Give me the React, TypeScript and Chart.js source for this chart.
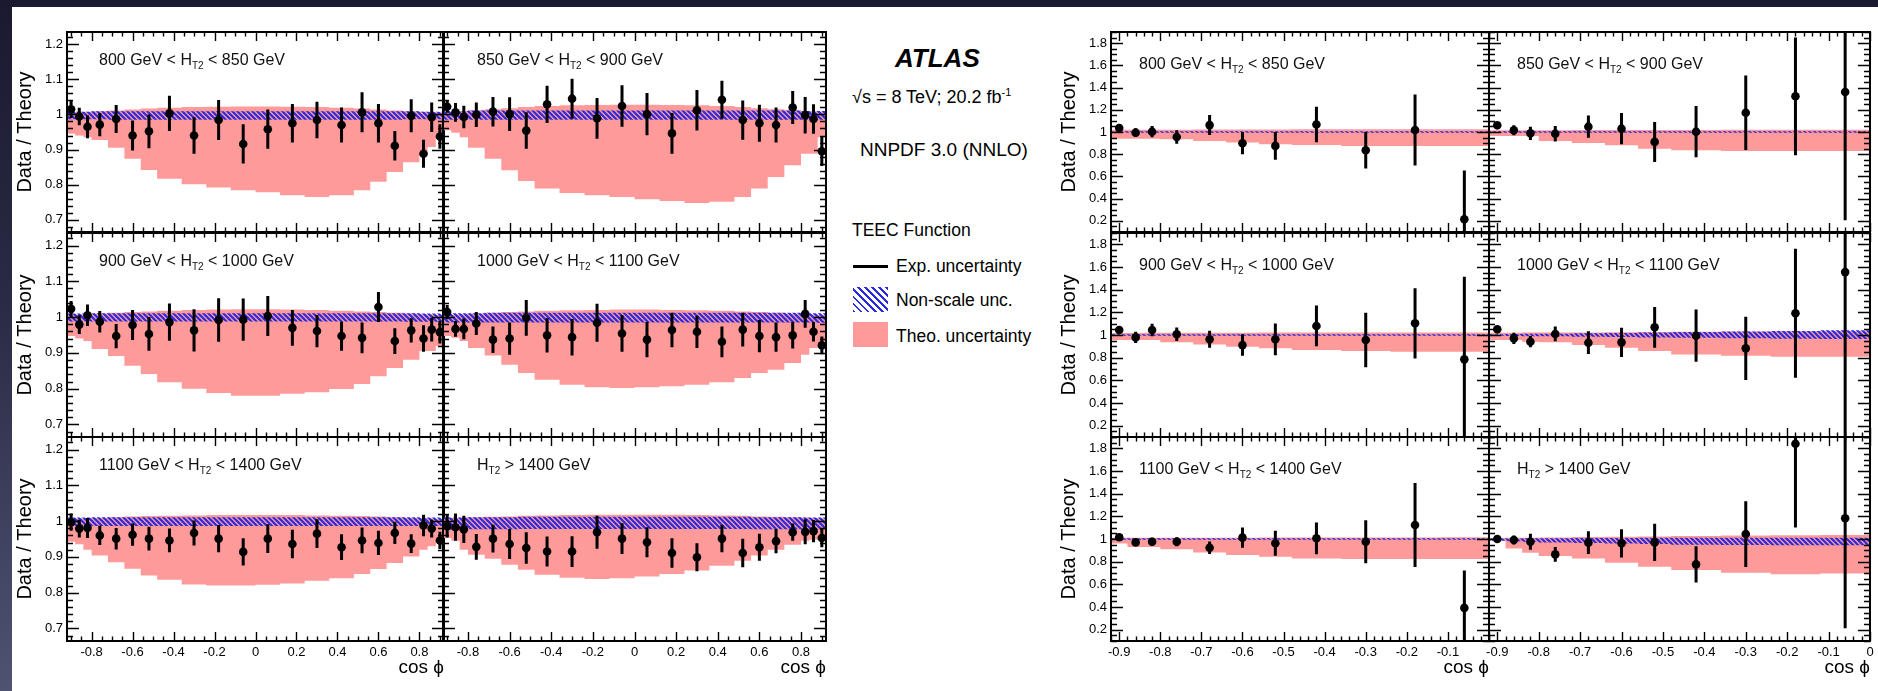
import React, { useEffect, useRef } from "react";
import { Chart, registerables } from "chart.js";
Chart.register(...registerables);

const FONT = "'Liberation Sans', Arial, Helvetica, sans-serif";
const RED = "#ff9a9a";
const HATCH_BLUE = "#2a2ae0";

// ---------- binning ----------
const TEEC_EDGES = [-0.92, -0.88, -0.84, -0.8, -0.72, -0.64, -0.56, -0.48, -0.36, -0.24, -0.12, 0, 0.12, 0.24, 0.36, 0.48, 0.56, 0.64, 0.72, 0.8, 0.84, 0.88, 0.92];
const TEEC_X = [-0.9, -0.86, -0.82, -0.76, -0.68, -0.6, -0.52, -0.42, -0.3, -0.18, -0.06, 0.06, 0.18, 0.3, 0.42, 0.52, 0.6, 0.68, 0.76, 0.82, 0.86, 0.9];
const AEEC_EDGES = [-0.92, -0.88, -0.84, -0.8, -0.72, -0.64, -0.56, -0.48, -0.36, -0.24, -0.12, 0];
const AEEC_X = [-0.9, -0.86, -0.82, -0.76, -0.68, -0.6, -0.52, -0.42, -0.3, -0.18, -0.06];

// ---------- tick labels ----------
const TEEC_X_TICKS = [-0.8, -0.6, -0.4, -0.2, 0, 0.2, 0.4, 0.6, 0.8];
const TEEC_Y_TICKS = [0.7, 0.8, 0.9, 1, 1.1, 1.2];
const AEEC_X_TICKS_A = [-0.9, -0.8, -0.7, -0.6, -0.5, -0.4, -0.3, -0.2, -0.1];
const AEEC_X_TICKS_B = [-0.9, -0.8, -0.7, -0.6, -0.5, -0.4, -0.3, -0.2, -0.1, 0];
const AEEC_Y_TICKS = [0.2, 0.4, 0.6, 0.8, 1, 1.2, 1.4, 1.6, 1.8];

// ---------- TEEC panels ----------
const T1_VAL = [1.015, 0.994, 0.965, 0.971, 0.987, 0.94, 0.952, 1.003, 0.94, 0.984, 0.916, 0.958, 0.975, 0.984, 0.97, 1.006, 0.975, 0.911, 0.996, 0.888, 0.992, 0.937];
const T1_ERR = [0.025, 0.025, 0.033, 0.033, 0.04, 0.043, 0.048, 0.05, 0.052, 0.057, 0.056, 0.056, 0.055, 0.052, 0.05, 0.057, 0.055, 0.042, 0.047, 0.04, 0.042, 0.035];
const T1_LO = [0.945, 0.94, 0.935, 0.927, 0.905, 0.874, 0.842, 0.817, 0.801, 0.792, 0.784, 0.778, 0.77, 0.765, 0.77, 0.784, 0.808, 0.836, 0.864, 0.885, 0.907, 0.94];
const T1_HI = [1.006, 1.007, 1.008, 1.009, 1.011, 1.014, 1.017, 1.019, 1.021, 1.022, 1.023, 1.023, 1.022, 1.021, 1.019, 1.017, 1.014, 1.011, 1.009, 1.008, 1.007, 1.006];
const T1_HLO = [0.986, 0.986, 0.986, 0.986, 0.985, 0.985, 0.985, 0.985, 0.985, 0.985, 0.985, 0.985, 0.985, 0.985, 0.985, 0.985, 0.985, 0.985, 0.986, 0.986, 0.986, 0.986];
const T1_HHI = [1.008, 1.008, 1.008, 1.009, 1.009, 1.009, 1.009, 1.009, 1.009, 1.009, 1.009, 1.009, 1.009, 1.009, 1.009, 1.009, 1.009, 1.009, 1.009, 1.008, 1.008, 1.008];

const T2_VAL = [1.022, 1.006, 0.993, 0.999, 1.008, 1.001, 0.954, 1.029, 1.045, 0.989, 1.024, 1.001, 0.946, 1.012, 1.042, 0.984, 0.975, 0.97, 1.02, 0.998, 0.987, 0.895];
const T2_ERR = [0.017, 0.027, 0.032, 0.035, 0.042, 0.048, 0.052, 0.053, 0.057, 0.058, 0.059, 0.06, 0.058, 0.058, 0.054, 0.056, 0.053, 0.05, 0.047, 0.052, 0.042, 0.042];
const T2_LO = [0.955, 0.948, 0.935, 0.905, 0.874, 0.841, 0.81, 0.789, 0.776, 0.77, 0.765, 0.758, 0.753, 0.748, 0.751, 0.765, 0.789, 0.822, 0.855, 0.888, 0.888, 0.935];
const T2_HI = [1.008, 1.009, 1.01, 1.012, 1.015, 1.018, 1.021, 1.024, 1.026, 1.027, 1.028, 1.028, 1.027, 1.026, 1.024, 1.021, 1.018, 1.015, 1.012, 1.01, 1.009, 1.008];
const T2_HLO = [0.985, 0.985, 0.985, 0.985, 0.985, 0.985, 0.985, 0.985, 0.985, 0.985, 0.985, 0.985, 0.985, 0.985, 0.985, 0.985, 0.985, 0.985, 0.985, 0.985, 0.985, 0.985];
const T2_HHI = [1.01, 1.01, 1.01, 1.011, 1.011, 1.011, 1.011, 1.011, 1.011, 1.011, 1.011, 1.011, 1.011, 1.011, 1.011, 1.011, 1.011, 1.011, 1.011, 1.01, 1.01, 1.01];

const T3_VAL = [1.023, 0.979, 1.005, 0.987, 0.947, 0.978, 0.953, 0.986, 0.963, 0.992, 0.993, 1.003, 0.97, 0.961, 0.947, 0.942, 1.028, 0.933, 0.963, 0.94, 0.965, 0.958];
const T3_ERR = [0.022, 0.026, 0.03, 0.03, 0.034, 0.042, 0.047, 0.052, 0.059, 0.061, 0.059, 0.056, 0.05, 0.045, 0.041, 0.043, 0.042, 0.036, 0.034, 0.037, 0.033, 0.032];
const T3_LO = [0.947, 0.94, 0.933, 0.911, 0.891, 0.864, 0.841, 0.818, 0.8, 0.788, 0.78, 0.78, 0.786, 0.79, 0.799, 0.813, 0.835, 0.858, 0.881, 0.905, 0.905, 0.919];
const T3_HI = [1.006, 1.007, 1.008, 1.01, 1.012, 1.014, 1.016, 1.018, 1.02, 1.021, 1.022, 1.022, 1.021, 1.02, 1.018, 1.016, 1.014, 1.012, 1.01, 1.008, 1.007, 1.006];
const T3_HLO = [0.988, 0.988, 0.988, 0.988, 0.988, 0.988, 0.988, 0.988, 0.988, 0.988, 0.988, 0.988, 0.988, 0.988, 0.988, 0.988, 0.988, 0.988, 0.987, 0.987, 0.987, 0.987];
const T3_HHI = [1.01, 1.01, 1.01, 1.011, 1.011, 1.011, 1.011, 1.011, 1.011, 1.011, 1.011, 1.011, 1.011, 1.011, 1.011, 1.011, 1.011, 1.011, 1.011, 1.01, 1.01, 1.01];

const T4_VAL = [1.014, 0.967, 0.967, 0.982, 0.937, 0.94, 0.998, 0.949, 0.944, 0.984, 0.954, 0.937, 0.964, 0.959, 0.931, 0.965, 0.947, 0.944, 0.949, 1.009, 0.959, 0.921];
const T4_ERR = [0.02, 0.022, 0.029, 0.032, 0.037, 0.045, 0.05, 0.048, 0.051, 0.053, 0.051, 0.049, 0.048, 0.045, 0.043, 0.047, 0.045, 0.041, 0.037, 0.039, 0.027, 0.025];
const T4_LO = [0.947, 0.942, 0.933, 0.914, 0.893, 0.867, 0.844, 0.825, 0.811, 0.804, 0.802, 0.804, 0.807, 0.811, 0.818, 0.83, 0.844, 0.853, 0.872, 0.895, 0.914, 0.919];
const T4_HI = [1.006, 1.007, 1.008, 1.01, 1.012, 1.014, 1.016, 1.018, 1.019, 1.02, 1.021, 1.021, 1.02, 1.019, 1.018, 1.016, 1.014, 1.012, 1.01, 1.008, 1.007, 1.006];
const T4_HLO = [0.985, 0.985, 0.985, 0.985, 0.985, 0.985, 0.985, 0.985, 0.985, 0.985, 0.985, 0.985, 0.985, 0.985, 0.985, 0.985, 0.985, 0.985, 0.985, 0.985, 0.984, 0.984];
const T4_HHI = [1.011, 1.011, 1.011, 1.011, 1.012, 1.012, 1.012, 1.012, 1.012, 1.012, 1.012, 1.012, 1.012, 1.012, 1.012, 1.012, 1.012, 1.012, 1.012, 1.011, 1.011, 1.011];

const T5_VAL = [0.997, 0.979, 0.981, 0.96, 0.951, 0.962, 0.951, 0.946, 0.967, 0.951, 0.914, 0.951, 0.936, 0.965, 0.927, 0.946, 0.939, 0.967, 0.937, 0.988, 0.979, 0.946];
const T5_ERR = [0.024, 0.025, 0.028, 0.027, 0.03, 0.031, 0.033, 0.033, 0.035, 0.038, 0.038, 0.04, 0.04, 0.04, 0.036, 0.036, 0.034, 0.031, 0.026, 0.03, 0.025, 0.024];
const T5_LO = [0.942, 0.935, 0.92, 0.904, 0.885, 0.867, 0.848, 0.836, 0.823, 0.82, 0.82, 0.822, 0.826, 0.833, 0.84, 0.852, 0.866, 0.883, 0.901, 0.92, 0.93, 0.939];
const T5_HI = [1.006, 1.007, 1.008, 1.009, 1.011, 1.013, 1.014, 1.015, 1.016, 1.017, 1.017, 1.017, 1.017, 1.016, 1.015, 1.014, 1.013, 1.011, 1.009, 1.008, 1.007, 1.006];
const T5_HLO = [0.986, 0.986, 0.986, 0.986, 0.986, 0.986, 0.986, 0.986, 0.986, 0.986, 0.986, 0.986, 0.986, 0.986, 0.986, 0.986, 0.986, 0.986, 0.986, 0.986, 0.986, 0.986];
const T5_HHI = [1.01, 1.01, 1.01, 1.011, 1.011, 1.011, 1.011, 1.011, 1.011, 1.011, 1.011, 1.011, 1.011, 1.011, 1.011, 1.011, 1.011, 1.011, 1.011, 1.01, 1.01, 1.01];

const T6_VAL = [0.986, 0.983, 0.977, 0.928, 0.951, 0.936, 0.925, 0.915, 0.915, 0.969, 0.951, 0.941, 0.911, 0.899, 0.951, 0.911, 0.927, 0.944, 0.969, 0.97, 0.972, 0.953];
const T6_ERR = [0.032, 0.038, 0.038, 0.036, 0.039, 0.042, 0.044, 0.042, 0.043, 0.046, 0.043, 0.042, 0.041, 0.039, 0.038, 0.04, 0.038, 0.034, 0.024, 0.035, 0.031, 0.026];
const T6_LO = [0.953, 0.945, 0.92, 0.906, 0.895, 0.878, 0.864, 0.85, 0.842, 0.838, 0.84, 0.845, 0.852, 0.862, 0.875, 0.889, 0.904, 0.92, 0.934, 0.945, 0.948, 0.95];
const T6_HI = [1.008, 1.009, 1.01, 1.011, 1.012, 1.013, 1.015, 1.016, 1.017, 1.018, 1.018, 1.018, 1.018, 1.017, 1.016, 1.015, 1.013, 1.012, 1.011, 1.01, 1.009, 1.008];
const T6_HLO = [0.976, 0.976, 0.976, 0.977, 0.977, 0.977, 0.978, 0.978, 0.978, 0.978, 0.978, 0.978, 0.978, 0.978, 0.978, 0.978, 0.977, 0.977, 0.977, 0.976, 0.976, 0.976];
const T6_HHI = [1.01, 1.01, 1.01, 1.011, 1.011, 1.011, 1.012, 1.012, 1.012, 1.012, 1.012, 1.012, 1.012, 1.012, 1.012, 1.012, 1.011, 1.011, 1.011, 1.01, 1.01, 1.01];

// ---------- AEEC panels ----------
const A1_VAL = [1.036, 0.994, 1.003, 0.955, 1.062, 0.899, 0.875, 1.068, 0.836, 1.018, 0.214];
const A1_ERR = [0.03, 0.04, 0.05, 0.06, 0.09, 0.1, 0.125, 0.16, 0.165, 0.32, 0.44];
const A1_LO = [0.94, 0.94, 0.94, 0.935, 0.92, 0.905, 0.89, 0.884, 0.875, 0.875, 0.875];
const A1_HI = [1.02, 1.02, 1.021, 1.021, 1.022, 1.022, 1.023, 1.024, 1.024, 1.025, 1.025];
const A1_HLO = [0.994, 0.994, 0.994, 0.994, 0.994, 0.994, 0.994, 0.994, 0.994, 0.994, 0.993];
const A1_HHI = [1.006, 1.006, 1.006, 1.006, 1.006, 1.006, 1.006, 1.006, 1.006, 1.006, 1.007];

const A2_VAL = [1.06, 1.015, 0.988, 0.985, 1.048, 1.03, 0.911, 1.003, 1.173, 1.321, 1.36];
const A2_ERR = [0.02, 0.045, 0.06, 0.07, 0.1, 0.14, 0.18, 0.23, 0.335, 0.53, 1.155];
const A2_LO = [0.964, 0.964, 0.964, 0.92, 0.9, 0.88, 0.85, 0.836, 0.83, 0.83, 0.83];
const A2_HI = [1.015, 1.015, 1.016, 1.016, 1.017, 1.018, 1.018, 1.019, 1.02, 1.02, 1.02];
const A2_HLO = [0.994, 0.994, 0.994, 0.994, 0.994, 0.994, 0.994, 0.994, 0.993, 0.993, 0.993];
const A2_HHI = [1.006, 1.006, 1.006, 1.006, 1.006, 1.006, 1.006, 1.006, 1.007, 1.007, 1.007];

const A3_VAL = [1.044, 0.979, 1.044, 1.006, 0.962, 0.911, 0.962, 1.08, 0.956, 1.103, 0.785];
const A3_ERR = [0.03, 0.05, 0.055, 0.06, 0.075, 0.095, 0.14, 0.18, 0.24, 0.31, 0.73];
const A3_LO = [0.956, 0.956, 0.956, 0.935, 0.917, 0.897, 0.882, 0.867, 0.858, 0.852, 0.852];
const A3_HI = [1.018, 1.018, 1.019, 1.019, 1.02, 1.02, 1.021, 1.022, 1.022, 1.023, 1.023];
const A3_HLO = [0.994, 0.994, 0.994, 0.994, 0.994, 0.994, 0.994, 0.993, 0.993, 0.993, 0.993];
const A3_HHI = [1.006, 1.006, 1.006, 1.006, 1.006, 1.006, 1.006, 1.007, 1.007, 1.007, 1.007];

const A4_VAL = [1.05, 0.97, 0.941, 1.009, 0.932, 0.935, 1.068, 0.994, 0.882, 1.192, 1.555];
const A4_ERR = [0.03, 0.05, 0.05, 0.065, 0.1, 0.13, 0.18, 0.23, 0.28, 0.57, 1.6];
const A4_LO = [0.956, 0.956, 0.941, 0.935, 0.911, 0.888, 0.858, 0.829, 0.817, 0.808, 0.808];
const A4_HI = [1.02, 1.02, 1.021, 1.022, 1.023, 1.024, 1.026, 1.028, 1.03, 1.032, 1.034];
const A4_HLO = [0.993, 0.992, 0.99, 0.988, 0.985, 0.982, 0.978, 0.975, 0.972, 0.968, 0.965];
const A4_HHI = [1.007, 1.008, 1.01, 1.012, 1.015, 1.018, 1.022, 1.026, 1.03, 1.036, 1.042];

const A5_VAL = [1.015, 0.97, 0.976, 0.976, 0.923, 1.012, 0.962, 1.006, 0.976, 1.124, 0.392];
const A5_ERR = [0.02, 0.03, 0.035, 0.04, 0.055, 0.09, 0.11, 0.14, 0.19, 0.37, 0.33];
const A5_LO = [0.96, 0.93, 0.93, 0.91, 0.88, 0.858, 0.844, 0.829, 0.823, 0.823, 0.823];
const A5_HI = [1.01, 1.01, 1.011, 1.011, 1.012, 1.012, 1.013, 1.013, 1.014, 1.014, 1.015];
const A5_HLO = [0.994, 0.994, 0.994, 0.994, 0.994, 0.994, 0.994, 0.994, 0.994, 0.994, 0.994];
const A5_HHI = [1.006, 1.006, 1.006, 1.006, 1.006, 1.006, 1.006, 1.006, 1.006, 1.006, 1.006];

const A6_VAL = [1.0, 0.991, 0.976, 0.864, 0.968, 0.962, 0.97, 0.776, 1.044, 1.841, 1.183];
const A6_ERR = [0.02, 0.04, 0.07, 0.065, 0.1, 0.125, 0.165, 0.16, 0.29, 0.74, 0.97];
const A6_LO = [0.985, 0.917, 0.879, 0.85, 0.829, 0.79, 0.755, 0.726, 0.702, 0.69, 0.696];
const A6_HI = [1.008, 1.01, 1.012, 1.014, 1.017, 1.02, 1.023, 1.026, 1.03, 1.033, 1.035];
const A6_HLO = [0.985, 0.98, 0.975, 0.97, 0.965, 0.96, 0.955, 0.95, 0.948, 0.945, 0.945];
const A6_HHI = [1.005, 1.005, 1.006, 1.007, 1.008, 1.009, 1.01, 1.011, 1.012, 1.012, 1.012];

// ---------- layout ----------
const AXW = 56; // y-axis box width
const PT = 12; // top padding
const PR = 24; // right padding
const XAH = 42; // x-axis box height

const ROWS = [[32, 232], [233, 437], [437, 641]];
const LCOLS = [[67, 444], [443, 826]];
const RCOLS = [[1111, 1489], [1489, 1870]];

type Kind = "teec" | "aeec";
type PanelCfg = {
  kind: Kind;
  col: number;
  row: number;
  frame: number[];
  val: number[];
  err: number[];
  lo: number[];
  hi: number[];
  hlo: number[];
  hhi: number[];
  pre: string;
  post: string;
};

const LABELS: [string, string][] = [
  ["800 GeV < ", " < 850 GeV"],
  ["850 GeV < ", " < 900 GeV"],
  ["900 GeV < ", " < 1000 GeV"],
  ["1000 GeV < ", " < 1100 GeV"],
  ["1100 GeV < ", " < 1400 GeV"],
  ["", " > 1400 GeV"],
];

const TEEC_SETS = [
  [T1_VAL, T1_ERR, T1_LO, T1_HI, T1_HLO, T1_HHI],
  [T2_VAL, T2_ERR, T2_LO, T2_HI, T2_HLO, T2_HHI],
  [T3_VAL, T3_ERR, T3_LO, T3_HI, T3_HLO, T3_HHI],
  [T4_VAL, T4_ERR, T4_LO, T4_HI, T4_HLO, T4_HHI],
  [T5_VAL, T5_ERR, T5_LO, T5_HI, T5_HLO, T5_HHI],
  [T6_VAL, T6_ERR, T6_LO, T6_HI, T6_HLO, T6_HHI],
];
const AEEC_SETS = [
  [A1_VAL, A1_ERR, A1_LO, A1_HI, A1_HLO, A1_HHI],
  [A2_VAL, A2_ERR, A2_LO, A2_HI, A2_HLO, A2_HHI],
  [A3_VAL, A3_ERR, A3_LO, A3_HI, A3_HLO, A3_HHI],
  [A4_VAL, A4_ERR, A4_LO, A4_HI, A4_HLO, A4_HHI],
  [A5_VAL, A5_ERR, A5_LO, A5_HI, A5_HLO, A5_HHI],
  [A6_VAL, A6_ERR, A6_LO, A6_HI, A6_HLO, A6_HHI],
];

function buildPanels(): PanelCfg[] {
  const out: PanelCfg[] = [];
  (["teec", "aeec"] as Kind[]).forEach((kind) => {
    const sets = kind === "teec" ? TEEC_SETS : AEEC_SETS;
    const cols = kind === "teec" ? LCOLS : RCOLS;
    sets.forEach((s, i) => {
      const row = Math.floor(i / 2);
      const col = i % 2;
      out.push({
        kind,
        col,
        row,
        frame: [cols[col][0], ROWS[row][0], cols[col][1], ROWS[row][1]],
        val: s[0], err: s[1], lo: s[2], hi: s[3], hlo: s[4], hhi: s[5],
        pre: LABELS[i][0],
        post: LABELS[i][1],
      });
    });
  });
  return out;
}
const PANELS = buildPanels();

function fmt(v: number) {
  const r = Math.round(v * 100) / 100;
  return String(r === 0 ? 0 : r);
}

function stepPts(edges: number[], vals: number[]) {
  const pts = vals.map((v, i) => ({ x: edges[i], y: v }));
  pts.push({ x: edges[edges.length - 1], y: vals[vals.length - 1] });
  return pts;
}

let hatchCache: CanvasPattern | null = null;
function hatchPattern(): CanvasPattern | string {
  if (hatchCache) return hatchCache;
  const c = document.createElement("canvas");
  c.width = 5;
  c.height = 5;
  const g = c.getContext("2d");
  if (!g) return HATCH_BLUE;
  g.strokeStyle = HATCH_BLUE;
  g.lineWidth = 2.2;
  g.beginPath();
  g.moveTo(-1, -1); g.lineTo(6, 6);
  g.moveTo(-1, 4); g.lineTo(1, 6);
  g.moveTo(4, -1); g.lineTo(6, 1);
  g.stroke();
  hatchCache = g.createPattern(c, "repeat");
  return hatchCache || HATCH_BLUE;
}

function framePlugin(kind: Kind) {
  const xMajor = kind === "teec" ? TEEC_X_TICKS : AEEC_X_TICKS_B;
  const yMajor = kind === "teec" ? TEEC_Y_TICKS : AEEC_Y_TICKS;
  const xStep = kind === "teec" ? 0.05 : 0.02;
  const yStep = kind === "teec" ? 0.02 : 0.05;
  const set = (maj: number[], step: number, min: number, max: number) => {
    const res: [number, boolean][] = [];
    const n0 = Math.ceil(min / step - 1e-6);
    const n1 = Math.floor(max / step + 1e-6);
    for (let n = n0; n <= n1; n++) {
      const v = n * step;
      res.push([v, maj.some((m) => Math.abs(m - v) < 1e-6)]);
    }
    return res;
  };
  return {
    id: "frameTicks",
    beforeDatasetsDraw(chart: any) {
      const { ctx, chartArea: a, scales } = chart;
      const xs = scales.x;
      const ys = scales.y;
      ctx.save();
      ctx.strokeStyle = "#000";
      ctx.lineWidth = 1.4;
      ctx.beginPath();
      for (const [v, M] of set(xMajor, xStep, xs.min, xs.max)) {
        const px = Math.round(xs.getPixelForValue(v)) + 0.5;
        const L = M ? 9 : 4.5;
        ctx.moveTo(px, a.bottom); ctx.lineTo(px, a.bottom - L);
        ctx.moveTo(px, a.top); ctx.lineTo(px, a.top + L);
      }
      for (const [v, M] of set(yMajor, yStep, ys.min, ys.max)) {
        const py = Math.round(ys.getPixelForValue(v)) + 0.5;
        const L = M ? 12 : 6;
        ctx.moveTo(a.left, py); ctx.lineTo(a.left + L, py);
        ctx.moveTo(a.right, py); ctx.lineTo(a.right - L, py);
      }
      ctx.stroke();
      ctx.lineWidth = 2;
      ctx.strokeRect(a.left, a.top, a.right - a.left, a.bottom - a.top);
      ctx.restore();
    },
  };
}

function errPlugin(xs: number[], vals: number[], errs: number[]) {
  return {
    id: "errBars",
    afterDatasetsDraw(chart: any) {
      const { ctx, chartArea: a, scales } = chart;
      const x = scales.x;
      const y = scales.y;
      ctx.save();
      ctx.beginPath();
      ctx.rect(a.left - 20, a.top, a.right - a.left + 40, a.bottom - a.top);
      ctx.clip();
      ctx.strokeStyle = "#000";
      ctx.lineWidth = 3;
      ctx.beginPath();
      xs.forEach((xv, i) => {
        const px = x.getPixelForValue(xv);
        ctx.moveTo(px, y.getPixelForValue(vals[i] - errs[i]));
        ctx.lineTo(px, y.getPixelForValue(vals[i] + errs[i]));
      });
      ctx.stroke();
      ctx.restore();
    },
  };
}

function Panel({ p }: { p: PanelCfg }) {
  const ref = useRef<HTMLCanvasElement>(null);
  const [L, T, R, B] = p.frame;
  const w = R - L + AXW + PR;
  const h = B - T + PT + XAH;
  useEffect(() => {
    const isT = p.kind === "teec";
    const edges = isT ? TEEC_EDGES : AEEC_EDGES;
    const xs = isT ? TEEC_X : AEEC_X;
    const xTicks = isT ? TEEC_X_TICKS : p.col === 0 ? AEEC_X_TICKS_A : AEEC_X_TICKS_B;
    const yTicks = isT ? TEEC_Y_TICKS : AEEC_Y_TICKS;
    const showY = p.col === 0;
    const showX = p.row === 2;
    const band = { stepped: true, pointRadius: 0, borderWidth: 0, borderColor: "rgba(0,0,0,0)", showLine: true };
    const chart = new Chart(ref.current as HTMLCanvasElement, {
      type: "line",
      data: {
        datasets: [
          { ...band, data: stepPts(edges, p.lo), fill: false, order: 3 },
          { ...band, data: stepPts(edges, p.hi), fill: "-1", backgroundColor: RED, order: 3 },
          { ...band, data: stepPts(edges, p.hlo), fill: false, order: 2 },
          { ...band, data: stepPts(edges, p.hhi), fill: "-1", backgroundColor: hatchPattern(), order: 2 },
          {
            data: xs.map((x, i) => ({ x, y: p.val[i] })),
            showLine: false,
            pointRadius: 4.3,
            pointBackgroundColor: "#000",
            pointBorderColor: "#000",
            pointBorderWidth: 0,
            order: 1,
            clip: { left: false, right: false, top: 0, bottom: 0 },
          },
        ],
      } as any,
      options: {
        animation: false,
        responsive: false,
        maintainAspectRatio: false,
        devicePixelRatio: 1,
        events: [],
        layout: { autoPadding: false, padding: { left: 0, top: PT, right: PR, bottom: 0 } },
        plugins: {
          legend: { display: false },
          tooltip: { enabled: false },
          filler: { drawTime: "beforeDatasetsDraw" },
        },
        scales: {
          x: {
            type: "linear",
            min: -0.92,
            max: isT ? 0.92 : 0,
            afterFit: (s: any) => { s.height = XAH; },
            afterBuildTicks: (s: any) => { s.ticks = xTicks.map((v) => ({ value: v })); },
            grid: { display: false, drawTicks: false },
            border: { display: false },
            ticks: {
              display: showX,
              autoSkip: false,
              maxRotation: 0,
              minRotation: 0,
              padding: 4,
              color: "#000",
              font: { family: FONT, size: 13 },
              callback: (v: any) => fmt(Number(v)),
            },
            title: {
              display: showX,
              text: "cos \u03d5",
              align: "end",
              color: "#000",
              font: { family: FONT, size: 19 },
              padding: { top: 0, bottom: 4 },
            },
          },
          y: {
            type: "linear",
            min: isT ? 0.665 : 0.1,
            max: isT ? 1.235 : 1.9,
            afterFit: (s: any) => { s.width = AXW; },
            afterBuildTicks: (s: any) => { s.ticks = yTicks.map((v) => ({ value: v })); },
            grid: { display: false, drawTicks: false },
            border: { display: false },
            ticks: {
              display: showY,
              autoSkip: false,
              padding: 4,
              color: "#000",
              font: { family: FONT, size: 13 },
              callback: (v: any) => fmt(Number(v)),
            },
            title: {
              display: showY,
              text: "Data / Theory",
              color: "#000",
              font: { family: FONT, size: 20 },
              padding: { top: 2, bottom: 0 },
            },
          },
        },
      } as any,
      plugins: [framePlugin(p.kind), errPlugin(xs, p.val, p.err)],
    });
    return () => chart.destroy();
  }, []);
  return (
    <canvas
      ref={ref}
      width={w}
      height={h}
      style={{ position: "absolute", left: L - AXW, top: T - PT, width: w, height: h }}
    />
  );
}

function PanelLabel({ p }: { p: PanelCfg }) {
  const [L, T] = p.frame;
  const isT = p.kind === "teec";
  const dx = isT ? (p.col === 0 ? 32 : 34) : 28;
  const dy = isT ? 27.5 : 32;
  return (
    <div
      style={{
        position: "absolute",
        left: L + dx,
        top: T + dy - 10,
        lineHeight: "20px",
        fontSize: 16,
        fontFamily: FONT,
        color: "#111",
        whiteSpace: "nowrap",
      }}
    >
      {p.pre}H
      <span style={{ fontSize: 10, position: "relative", top: 4 }}>T2</span>
      {p.post}
    </div>
  );
}

function Txt(props: { x: number; cy: number; size: number; children: React.ReactNode; style?: React.CSSProperties }) {
  const lh = Math.round(props.size * 1.25);
  return (
    <div
      style={{
        position: "absolute",
        left: props.x,
        top: props.cy - lh / 2,
        lineHeight: lh + "px",
        fontSize: props.size,
        fontFamily: FONT,
        color: "#000",
        whiteSpace: "nowrap",
        ...props.style,
      }}
    >
      {props.children}
    </div>
  );
}

export default function App() {
  return (
    <div
      style={{
        position: "fixed",
        left: 0,
        top: 0,
        width: 1878,
        height: 691,
        overflow: "hidden",
        background: "linear-gradient(180deg, #1b1930 0%, #2b2b46 45%, #4e5372 100%)",
      }}
    >
      <div style={{ position: "absolute", left: 12, top: 7, right: 0, bottom: 0, background: "#fff" }} />
      {PANELS.map((p, i) => (
        <Panel key={"c" + i} p={p} />
      ))}
      {PANELS.map((p, i) => (
        <PanelLabel key={"l" + i} p={p} />
      ))}
      <Txt x={895} cy={58} size={26} style={{ fontWeight: "bold", fontStyle: "italic" }}>ATLAS</Txt>
      <Txt x={852} cy={97} size={18}>
        {"\u221As = 8 TeV; 20.2 fb"}
        <span style={{ fontSize: 11, position: "relative", top: -7 }}>-1</span>
      </Txt>
      <Txt x={860} cy={150} size={19}>NNPDF 3.0 (NNLO)</Txt>
      <Txt x={852} cy={230} size={17.5}>TEEC Function</Txt>
      <div style={{ position: "absolute", left: 853, top: 265, width: 35, height: 3, background: "#000" }} />
      <Txt x={896} cy={266} size={17.5}>Exp. uncertainty</Txt>
      <div
        style={{
          position: "absolute",
          left: 853,
          top: 287,
          width: 35,
          height: 25,
          background: `repeating-linear-gradient(45deg, ${HATCH_BLUE} 0px, ${HATCH_BLUE} 2px, #ffffff 2px, #ffffff 5px)`,
        }}
      />
      <Txt x={896} cy={300} size={17.5}>Non-scale unc.</Txt>
      <div style={{ position: "absolute", left: 853, top: 322, width: 35, height: 25, background: RED }} />
      <Txt x={896} cy={336} size={17.5}>Theo. uncertainty</Txt>
    </div>
  );
}
